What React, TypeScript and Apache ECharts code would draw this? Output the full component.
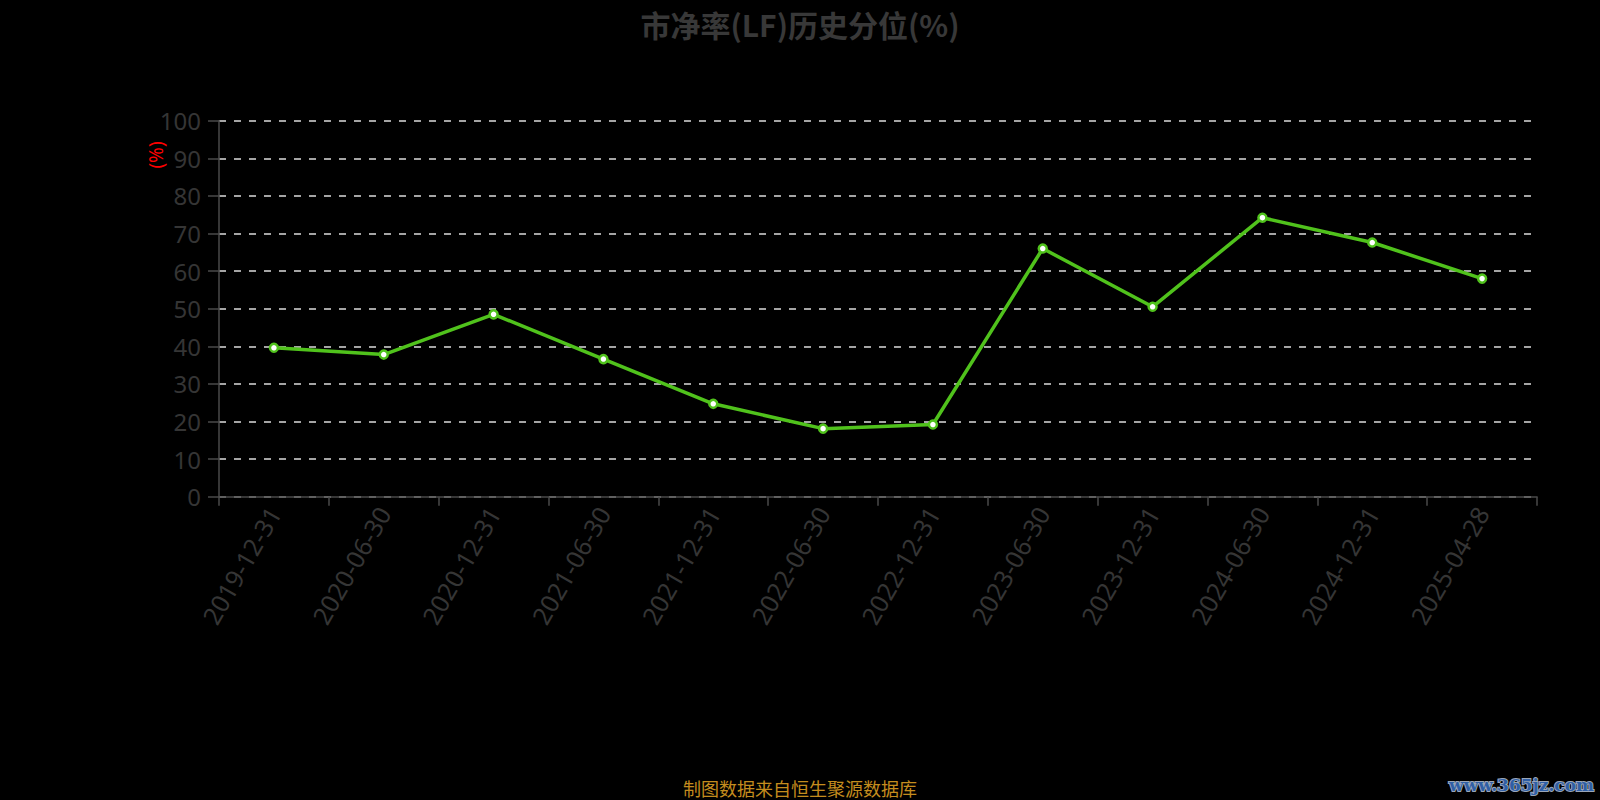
import React, { useEffect, useRef } from "react";
import * as echarts from "echarts";

const titleText = "市净率(LF)历史分位(%)";
const categories = [
  "2019-12-31", "2020-06-30", "2020-12-31", "2021-06-30", "2021-12-31", "2022-06-30",
  "2022-12-31", "2023-06-30", "2023-12-31", "2024-06-30", "2024-12-31", "2025-04-28",
];
const percentile = [39.6, 37.8, 48.5, 36.6, 24.7, 18.1, 19.2, 66.0, 50.5, 74.2, 67.6, 58.0];
const yMin = 0;
const yMax = 100;
const yInterval = 10;
const yName = "(%)";
const footerText = "制图数据来自恒生聚源数据库";
const watermarkText = "www.365jz.com";

const FONT = "'Noto Sans', 'Noto Sans CJK SC', sans-serif";

export default function App() {
  const ref = useRef<HTMLDivElement>(null);
  useEffect(() => {
    if (!ref.current) return;
    const chart = echarts.init(ref.current, null, { renderer: "svg" });
    chart.setOption({
      animation: false,
      backgroundColor: "#000",
      title: {
        text: titleText,
        left: "center",
        top: 4,
        textStyle: { color: "#383838", fontSize: 30, fontWeight: "bold", fontFamily: "'Noto Sans CJK SC', sans-serif" },
      },
      grid: { left: 219, right: 63, top: 120.7, bottom: 303.3, containLabel: false },
      xAxis: {
        type: "category",
        data: categories,
        boundaryGap: true,
        axisLine: { show: true, lineStyle: { color: "#4a4a4a", width: 1.5 } },
        axisTick: { show: true, length: 9, lineStyle: { color: "#4a4a4a", width: 1.5 } },
        axisLabel: { rotate: 60, margin: 12, color: "#353535", fontSize: 25, fontFamily: FONT },
        splitLine: { show: false },
      },
      yAxis: {
        type: "value",
        min: yMin,
        max: yMax,
        interval: yInterval,
        axisLine: { show: true, lineStyle: { color: "#4a4a4a", width: 1.5 } },
        axisTick: { show: true, length: 11, lineStyle: { color: "#4a4a4a", width: 1.5 } },
        axisLabel: { margin: 18, color: "#353535", fontSize: 24, fontFamily: FONT },
        splitLine: { show: true, lineStyle: { color: "#dcdcdc", width: 1.5, type: [7, 8] } },
      },
      series: [
        {
          type: "line",
          data: percentile,
          symbol: "circle",
          symbolSize: 8,
          showSymbol: true,
          lineStyle: { color: "#50c21c", width: 3.5 },
          itemStyle: { color: "#ffffff", borderColor: "#50c21c", borderWidth: 2.5 },
          z: 5,
        },
      ],
      graphic: [
        {
          type: "text",
          x: 156,
          y: 155,
          rotation: Math.PI / 2,
          style: {
            text: yName,
            fill: "#ff0000",
            fontSize: 19,
            fontFamily: FONT,
            align: "center",
            verticalAlign: "middle",
          },
        },
        {
          type: "text",
          x: 800,
          y: 788,
          style: {
            text: footerText,
            fill: "#c48c1e",
            fontSize: 18,
            fontFamily: "'Noto Sans CJK SC', sans-serif",
            align: "center",
            verticalAlign: "middle",
          },
        },
        {
          type: "text",
          x: 1594,
          y: 785,
          style: {
            text: watermarkText,
            fill: "#2f5fa6",
            stroke: "#9aa6b8",
            lineWidth: 2,
            fontSize: 17,
            fontWeight: "bold",
            fontFamily: "'DejaVu Serif', serif",
            align: "right",
            verticalAlign: "middle",
          },
        },
      ],
    });
    return () => chart.dispose();
  }, []);
  return (
    <div
      ref={ref}
      style={{ width: 1600, height: 800, position: "absolute", left: 0, top: 0 }}
    />
  );
}
